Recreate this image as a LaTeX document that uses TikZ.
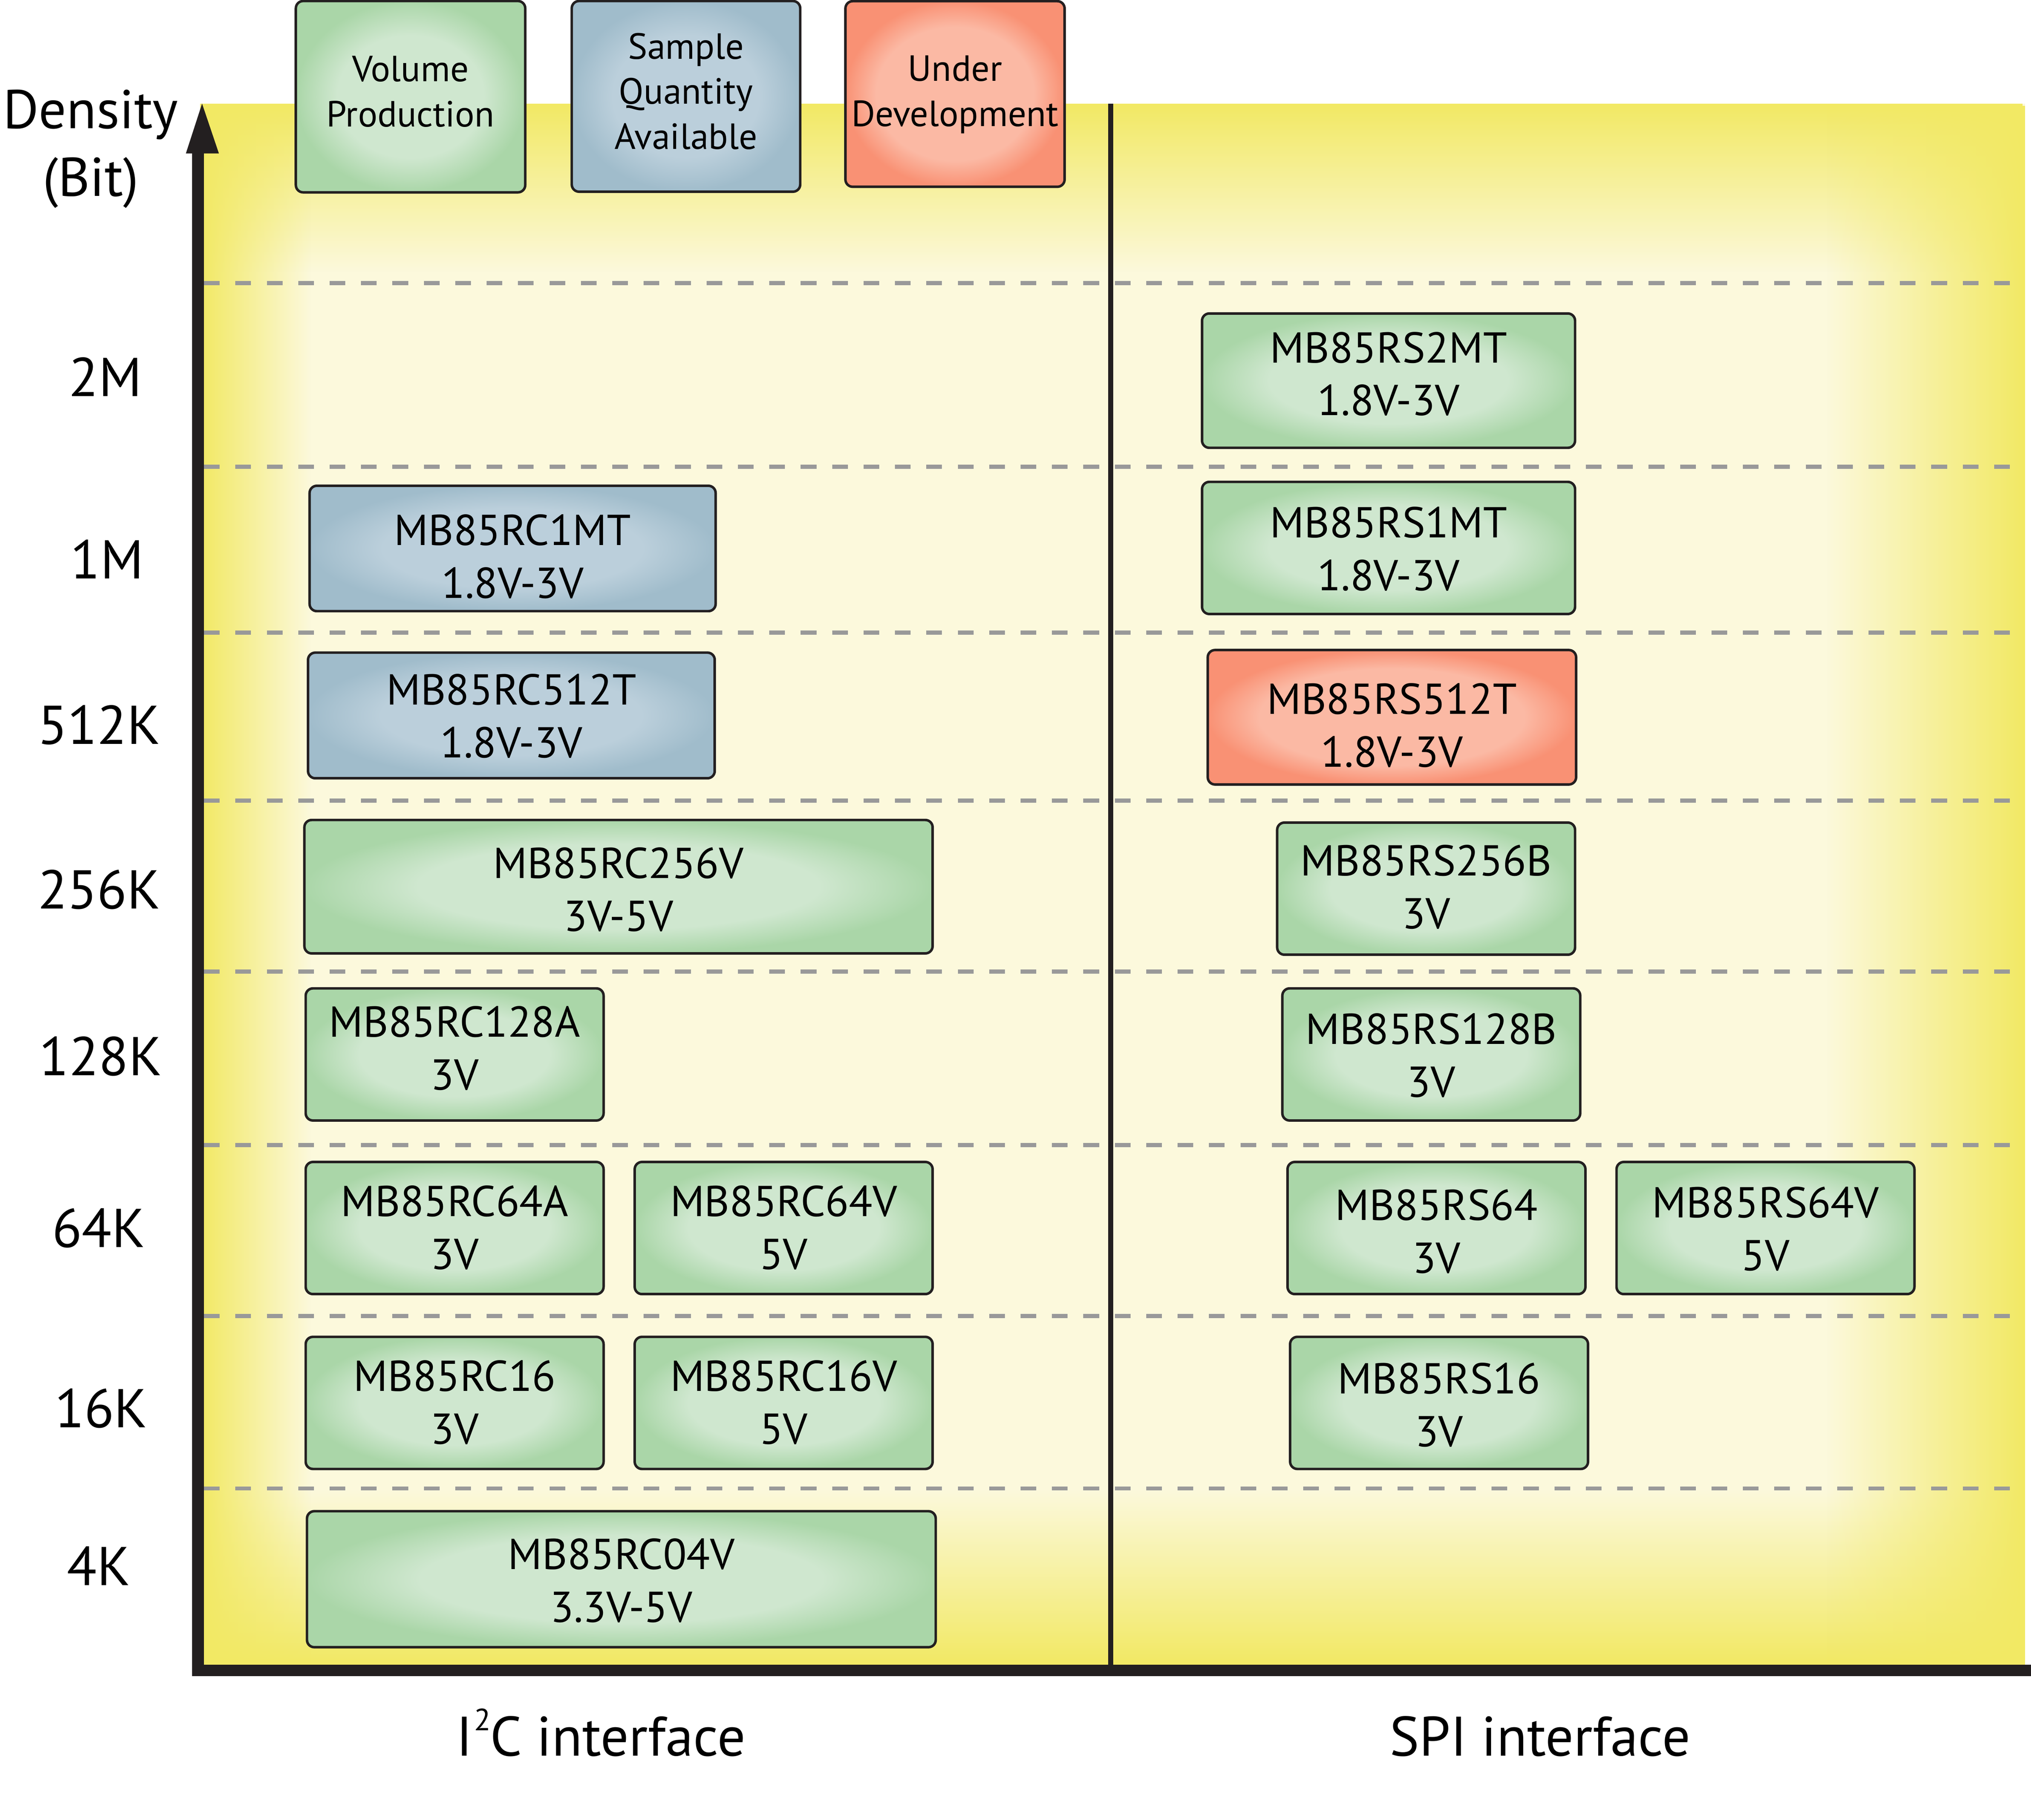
\documentclass[tikz,border=0pt]{standalone}
\usepackage{fontspec}
\setmainfont{PT Sans}
\usetikzlibrary{fadings}
\definecolor{gEdge}{RGB}{170,214,168}
\definecolor{gMid}{RGB}{207,231,207}
\definecolor{bEdge}{RGB}{160,188,203}
\definecolor{bMid}{RGB}{187,207,219}
\definecolor{rEdge}{RGB}{249,145,116}
\definecolor{rMid}{RGB}{251,185,164}
\definecolor{yEdge}{RGB}{242,233,100}
\definecolor{yMid}{RGB}{252,249,220}
\definecolor{axiscol}{RGB}{35,31,32}
\definecolor{dashcol}{RGB}{153,153,153}
\pgfdeclareradialshading{shG}{\pgfpointorigin}{color(0bp)=(gMid); color(16bp)=(gMid); color(25bp)=(gEdge); color(50bp)=(gEdge)}
\pgfdeclareradialshading{shB}{\pgfpointorigin}{color(0bp)=(bMid); color(16bp)=(bMid); color(25bp)=(bEdge); color(50bp)=(bEdge)}
\pgfdeclareradialshading{shR}{\pgfpointorigin}{color(0bp)=(rMid); color(18bp)=(rMid); color(25bp)=(rEdge); color(50bp)=(rEdge)}
\tikzfading[name=fadeDown, top color=transparent!0, bottom color=transparent!100]
\tikzfading[name=fadeUp, top color=transparent!100, bottom color=transparent!0]
\tikzfading[name=fadeRight, left color=transparent!0, right color=transparent!100]
\tikzfading[name=fadeLeft, left color=transparent!100, right color=transparent!0]
\tikzset{
  boxbase/.style={draw=axiscol, line width=1.1pt, rounded corners=3.2pt, inner sep=0pt},
  chiptext/.style={font=\fontsize{19}{23.2}\selectfont, align=center, inner sep=0pt, text depth=0pt},
  legtext/.style={font=\fontsize{16}{19.8}\selectfont, align=center, inner sep=0pt, text depth=0pt},
  ylab/.style={font=\fontsize{24}{28}\selectfont, anchor=base, inner sep=0pt},
  xlab/.style={font=\fontsize{24.5}{29}\selectfont, anchor=base, inner sep=0pt},
  dashline/.style={draw=dashcol, line width=1.8pt, dash pattern=on 6.9pt off 6.9pt},
}
\newcommand\chipbox[9]{%
  \node[boxbase, shading=#2, minimum width={(#5-#3)*0.02cm}, minimum height={(#6-#4)*0.02cm}] (#1) at ({(#3+#5)/2},{(#4+#6)/2}) {};
  \node[#9] (#1-t) at ({(#3+#5)/2},#7) {#8};
}
\begin{document}
\begin{tikzpicture}[x=0.02cm, y=-0.02cm]
\useasboundingbox (0,0) rectangle (1568,1404.7);
% background
\fill[yMid] (155,80) rectangle (1563.5,1285);
\fill[yEdge, path fading=fadeDown] (155,80) rectangle (1563.5,210);
\fill[yEdge, path fading=fadeUp] (155,1150) rectangle (1563.5,1285);
\fill[yEdge, path fading=fadeRight] (155,80) rectangle (240,1285);
\fill[yEdge, path fading=fadeLeft] (1410,80) rectangle (1563.5,1285);
% dashed grid lines
\foreach \yy/\nm in {218.5/d1,360.3/d2,488.4/d3,618/d4,750/d5,884/d6,1016/d7,1149/d8}{
  \coordinate (\nm a) at (157.5,\yy);
  \coordinate (\nm b) at (1561,\yy);
  \draw[dashline] (\nm a) -- (\nm b);
}
% divider
\coordinate (divtop) at (857.5,80);
\coordinate (divbot) at (857.5,1286);
\draw[axiscol, line width=2.3pt] (divtop) -- (divbot);
% axes
\fill[axiscol] (148.2,117) rectangle (157.6,1294);
\fill[axiscol] (148.2,1285) rectangle (1568,1294);
\fill[axiscol] (143.5,118.5) -- (156,80) -- (169,118.5) -- cycle;
% axis labels
\node[font=\fontsize{24}{29.8}\selectfont, align=center, inner sep=0pt, text depth=0pt] (dens) at (70,110.3) {Density\\(Bit)};
\node[ylab] (l2M) at (81.3,306) {2M};
\node[ylab] (l1M) at (82.7,446.7) {1M};
\node[ylab] (l512K) at (76.5,574.6) {512K};
\node[ylab] (l256K) at (76.5,701.5) {256K};
\node[ylab] (l128K) at (77.7,830.2) {128K};
\node[ylab] (l64K) at (76.2,963) {64K};
\node[ylab] (l16K) at (78,1102) {16K};
\node[ylab] (l4K) at (76.2,1224) {4K};
\node[xlab] (i2c) at (464,1355.5) {I\kern0.6pt\raisebox{11.2pt}{\fontsize{13.5}{14}\selectfont 2}\kern-0.3pt C interface};
\node[xlab] (spi) at (1189,1355.5) {SPI interface};
% legend
\chipbox{legV}{shG}{228.4}{0.8}{405.5}{148.5}{70.5}{Volume\\Production}{legtext}
\chipbox{legS}{shB}{441.4}{0.8}{617.8}{148}{70.3}{Sample\\Quantity\\Available}{legtext}
\chipbox{legU}{shR}{652.7}{0.9}{821.9}{144.2}{70.2}{Under\\Development}{legtext}
% I2C parts
\chipbox{rc1mt}{shB}{239}{375}{552.5}{471.8}{429.5}{MB85RC1MT\\1.8V-3V}{chiptext}
\chipbox{rc512t}{shB}{237.8}{503.8}{551.8}{600.8}{552.5}{MB85RC512T\\1.8V-3V}{chiptext}
\chipbox{rc256v}{shG}{235}{633}{720}{736}{686.5}{MB85RC256V\\3V-5V}{chiptext}
\chipbox{rc128a}{shG}{236}{763}{466}{865}{809}{MB85RC128A\\3V}{chiptext}
\chipbox{rc64a}{shG}{236}{897}{466}{999}{947.5}{MB85RC64A\\3V}{chiptext}
\chipbox{rc64v}{shG}{490}{897}{720}{999}{947.5}{MB85RC64V\\5V}{chiptext}
\chipbox{rc16}{shG}{236}{1032}{466}{1134}{1082.5}{MB85RC16\\3V}{chiptext}
\chipbox{rc16v}{shG}{490}{1032}{720}{1134}{1082.5}{MB85RC16V\\5V}{chiptext}
\chipbox{rc04v}{shG}{237}{1166.6}{722.4}{1271.6}{1220}{MB85RC04V\\3.3V-5V}{chiptext}
% SPI parts
\chipbox{rs2mt}{shG}{928}{242}{1216}{345.7}{288.5}{MB85RS2MT\\1.8V-3V}{chiptext}
\chipbox{rs1mt}{shG}{928}{372}{1216}{474}{423.5}{MB85RS1MT\\1.8V-3V}{chiptext}
\chipbox{rs512t}{shR}{932.4}{501.8}{1216.8}{605.6}{559.7}{MB85RS512T\\1.8V-3V}{chiptext}
\chipbox{rs256b}{shG}{986}{635}{1216}{737}{684.5}{MB85RS256B\\3V}{chiptext}
\chipbox{rs128b}{shG}{990}{763}{1220}{865}{814.5}{MB85RS128B\\3V}{chiptext}
\chipbox{rs64}{shG}{994}{897}{1224}{999}{950.5}{MB85RS64\\3V}{chiptext}
\chipbox{rs64v}{shG}{1248}{897}{1478}{999}{948.5}{MB85RS64V\\5V}{chiptext}
\chipbox{rs16}{shG}{996}{1032}{1226}{1134}{1084.5}{MB85RS16\\3V}{chiptext}
\end{tikzpicture}
\end{document}
